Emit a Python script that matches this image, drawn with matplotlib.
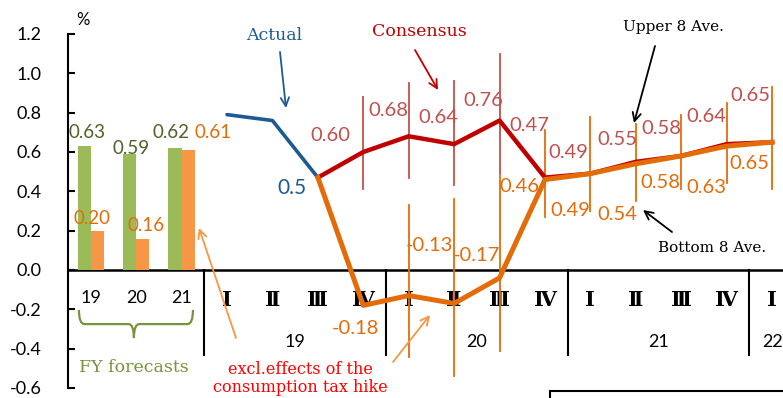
import numpy as np
import matplotlib
matplotlib.use("Agg")
import matplotlib.pyplot as plt
from matplotlib.path import Path
from matplotlib.patches import PathPatch, Rectangle

plt.rcParams['axes.unicode_minus'] = False

# ---------------- data ----------------
fy_labels = ["19", "20", "21"]
fy_forecast = [0.63, 0.59, 0.62]
fy_excl_tax = [0.20, 0.16, 0.61]

quarter_labels = ["Ⅰ", "Ⅱ", "Ⅲ", "Ⅳ", "Ⅰ", "Ⅱ", "Ⅲ", "Ⅳ", "Ⅰ", "Ⅱ", "Ⅲ", "Ⅳ", "Ⅰ"]
year_labels = ["19", "20", "21", "22"]

actual = [0.79, 0.76, 0.47]                      # 19 I - III
consensus = [0.47, 0.60, 0.68, 0.64, 0.76, 0.47, 0.49, 0.55, 0.58, 0.64, 0.65]   # 19 III - 22 I
excl_tax = [0.47, -0.18, -0.13, -0.17, -0.04, 0.46, 0.49, 0.54, 0.58, 0.63, 0.65]

cons_upper8 = [0.88, 0.95, 0.96, 1.10]           # 19 IV - 20 III
cons_bottom8 = [0.41, 0.47, 0.43, 0.49]
excl_upper8 = [0.33, 0.36, 0.48, 0.71, 0.78, 0.74, 0.79, 0.85, 0.93]   # 20 I - 22 I
excl_bottom8 = [-0.44, -0.54, -0.41, 0.27, 0.30, 0.35, 0.41, 0.44, 0.41]

cons_labels = ["", "0.60", "0.68", "0.64", "0.76", "0.47", "0.49", "0.55", "0.58", "0.64", "0.65"]
excl_labels = ["", "-0.18", "-0.13", "-0.17", "", "0.46", "0.49", "0.54", "0.58", "0.63", "0.65"]

# ---------------- positions ----------------
n_fy = len(fy_labels)
fy_pos = np.arange(n_fy)
q_pos = np.arange(n_fy, n_fy + len(quarter_labels))
act_pos = q_pos[:len(actual)]
fc_pos = q_pos[2:2 + len(consensus)]
cons_rng_pos = q_pos[3:3 + len(cons_upper8)]
excl_rng_pos = q_pos[4:4 + len(excl_upper8)]

# colors
C_BLUE = "#1d5a94"
C_RED = "#c00000"
C_RED_L = "#c0504d"
C_ORANGE = "#e36c09"
C_ORANGE_L = "#f79646"
C_GREEN = "#9bbb59"
C_GREEN_D = "#4f6228"
C_GREEN_T = "#77933c"

SANS = ["Lato", "DejaVu Sans"]
SERIF = ["DejaVu Serif"]

W, H = 783, 398
fig = plt.figure(figsize=(W / 100, H / 100), dpi=100)
ax = fig.add_axes([68 / W, 10 / H, 715 / W, 354 / H])
ax.set_xlim(-0.501, 15.24)
ax.set_ylim(-0.6, 1.2)

for s in ["top", "right", "bottom"]:
    ax.spines[s].set_visible(False)
ax.spines["left"].set_linewidth(1.5)
ax.set_xticks([])
yt = np.round(np.arange(-0.6, 1.21, 0.2), 1)
ax.set_yticks(yt)
ax.set_yticklabels([f"{v:.1f}" for v in yt], fontfamily=SANS, fontsize=13)
ax.tick_params(axis="y", direction="in", length=5, width=1.5, pad=19)
ax.axhline(0, color="black", lw=1.8, zorder=2)

# separators
for b in [2.5, 6.5, 10.5, 14.5]:
    ax.plot([b, b], [0, -0.43], color="black", lw=1.5, clip_on=False)

# bars
bw = 0.29
ax.bar(fy_pos - bw / 2, fy_forecast, bw, color=C_GREEN, zorder=3)
ax.bar(fy_pos + bw / 2, fy_excl_tax, bw, color=C_ORANGE_L, zorder=3)
g_dx = [-0.08, -0.11, -0.23]
g_dy = [0.07, 0.03, 0.08]
for i, v in enumerate(fy_forecast):
    ax.text(fy_pos[i] + g_dx[i], v + g_dy[i], f"{v:.2f}", color=C_GREEN_D,
            ha="center", va="center", fontfamily=SANS, fontsize=13.5)
o_dx = [0.03, 0.22, 0.69]
o_dy = [0.064, 0.064, 0.09]
for i, v in enumerate(fy_excl_tax):
    ax.text(fy_pos[i] + o_dx[i], v + o_dy[i], f"{v:.2f}", color=C_ORANGE,
            ha="center", va="center", fontfamily=SANS, fontsize=13.5)

# x labels
for i, lab in enumerate(fy_labels):
    ax.text(fy_pos[i], -0.142, lab, ha="center", va="center", fontfamily=SANS, fontsize=13)
for p, lab in zip(q_pos, quarter_labels):
    ax.text(p, -0.153, lab, ha="center", va="center", fontfamily=SERIF, fontsize=15,
            fontweight="bold", zorder=1)
year_centers = [q_pos[0:4].mean(), q_pos[4:8].mean(), q_pos[8:12].mean(), q_pos[12]]
for c, lab in zip(year_centers, year_labels):
    ax.text(c, -0.366, lab, ha="center", va="center", fontfamily=SANS, fontsize=13, clip_on=False)

# brace
x0, x1, xm = -0.26, 2.25, 0.95
yt_, ym_, ytip = -0.203, -0.275, -0.346
verts = [(x0, yt_), (x0, ym_), (x0 + 0.12, ym_), (xm - 0.12, ym_),
         (xm, ym_), (xm, ytip), (xm, ym_), (xm + 0.12, ym_), (x1 - 0.12, ym_),
         (x1, ym_), (x1, yt_)]
codes = [Path.MOVETO, Path.CURVE3, Path.CURVE3, Path.LINETO,
         Path.CURVE3, Path.CURVE3, Path.CURVE3, Path.CURVE3, Path.LINETO,
         Path.CURVE3, Path.CURVE3]
ax.add_patch(PathPatch(Path(verts, codes), fill=False, ec=C_GREEN_T, lw=1.6, clip_on=False))
ax.text(0.96, -0.495, "FY forecasts", color=C_GREEN_T, ha="center", va="center",
        fontfamily=SERIF, fontsize=12.5)

# range lines
for p, hi, lo in zip(cons_rng_pos, cons_upper8, cons_bottom8):
    ax.plot([p, p], [lo, hi], color=C_RED_L, lw=1.3, zorder=3)
for p, hi, lo in zip(excl_rng_pos, excl_upper8, excl_bottom8):
    ax.plot([p, p], [lo, hi], color=C_ORANGE, lw=1.3, zorder=3)

# lines
ax.plot(act_pos, actual, color=C_BLUE, lw=2.6, zorder=5, solid_capstyle="round")
ax.plot(fc_pos, consensus, color=C_RED, lw=3.2, zorder=5)
ax.plot(fc_pos, excl_tax, color=C_ORANGE, lw=3.6, zorder=6)

# point labels
ax.text(act_pos[-1] - 0.57, actual[-1] - 0.053, "0.5", color=C_BLUE, ha="center",
        va="center", fontfamily=SANS, fontsize=15)

c_dx = [0, -0.29, 0.0, 0.09, 0.09, 0.09, -0.04, 0.03, 0.0, 0.0, -0.04]
c_dy = [0, 0.086, 0.133, 0.133, 0.104, 0.267, 0.105, 0.116, 0.137, 0.143, 0.235]
for p, v, lab, dx, dy in zip(fc_pos, consensus, cons_labels, c_dx, c_dy):
    if lab:
        ax.text(p + dx, v + dy, lab, color=C_RED_L, ha="right", va="center",
                fontfamily=SANS, fontsize=14.5, zorder=7)

e_dx = [0, -0.18, -0.07, -0.04, 0, -0.13, 0.0, 0.03, -0.02, 0.0, -0.06]
e_dy = [0, -0.115, 0.257, 0.246, 0, -0.033, -0.185, -0.26, -0.133, -0.213, -0.106]
e_ha = ["center", "center", "left", "left", "center", "right", "right", "right", "right", "right", "right"]
for p, v, lab, dx, dy, ha in zip(fc_pos, excl_tax, excl_labels, e_dx, e_dy, e_ha):
    if lab:
        ax.text(p + dx, v + dy, lab, color=C_ORANGE, ha=ha, va="center",
                fontfamily=SANS, fontsize=14.5, zorder=7)

# annotations (figure pixel coords, y from top)
def fp(x, y):
    return (x, H - y)

def arrow(x0, y0, x1, y1, color, lw=1.3):
    ax.annotate("", xy=fp(x1, y1), xytext=fp(x0, y0), xycoords="figure pixels",
                textcoords="figure pixels",
                arrowprops=dict(arrowstyle="->,head_length=0.6,head_width=0.3",
                                color=color, lw=lw, shrinkA=0, shrinkB=0))

def label(x, y, s, color, size=12.5):
    fig.text(x / W, 1 - y / H, s, color=color, ha="center", va="center",
             fontfamily=SERIF, fontsize=size)

label(274, 35, "Actual", C_BLUE)
arrow(280, 52, 286, 108, C_BLUE)
label(419, 31, "Consensus", C_RED)
arrow(415, 50, 438, 90, C_RED)
label(673, 27, "Upper 8 Ave.", "black", 11)
arrow(655, 46, 634, 123, "black")
label(712, 248, "Bottom 8 Ave.", "black", 11)
arrow(672, 232, 643, 210, "black")
label(300, 370, "excl.effects of the", "#ff0000", 11.5)
label(300, 388, "consumption tax hike", "#ff0000", 11.5)
arrow(236, 338, 199, 228, C_ORANGE_L)
arrow(393, 362, 430, 315, C_ORANGE_L)

# % label
fig.text(83 / W, 1 - 20 / H, "%", ha="center", va="center", fontfamily=SANS, fontsize=12)

# partial box bottom-right
fig.add_artist(Rectangle((550 / W, -0.05), 260 / W, 0.05 + 7 / H, transform=fig.transFigure,
                         fill=False, ec="black", lw=1.5))

fig.savefig("out.png", dpi=100)
